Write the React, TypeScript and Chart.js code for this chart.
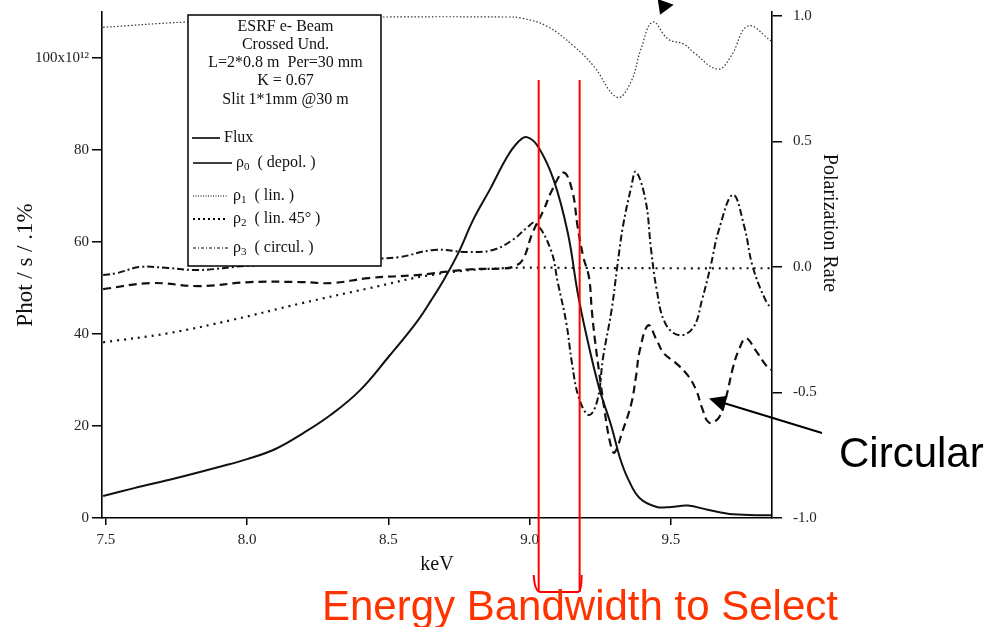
import React, { useEffect, useRef } from "react";
import { Chart, registerables } from "chart.js";
Chart.register(...registerables);

// ---- data ----
const fluxEnergy = [7.49, 7.6, 7.75, 7.9, 8.0, 8.1, 8.2, 8.3, 8.4, 8.5, 8.6, 8.65, 8.7, 8.75, 8.8, 8.86, 8.92, 8.96, 8.99, 9.03, 9.085, 9.135, 9.17, 9.2, 9.245, 9.29, 9.32, 9.35, 9.39, 9.45, 9.5, 9.56, 9.63, 9.72, 9.856];
const fluxValues = [4.8, 6.5, 8.7, 11.1, 12.8, 15.0, 18.5, 22.6, 27.8, 35.0, 42.6, 47.2, 52.2, 57.9, 64.8, 71.5, 78.5, 81.8, 82.8, 80.7, 73.5, 62, 49, 40, 28.5, 19.8, 13, 8.3, 4.3, 2.4, 2.4, 2.7, 1.8, 0.8, 0.6];

const rho1Energy = [7.49, 7.78, 8.1, 8.48, 8.92, 8.97, 9.06, 9.156, 9.227, 9.31, 9.358, 9.394, 9.436, 9.49, 9.546, 9.58, 9.666, 9.713, 9.773, 9.856];
const rho1Values = [0.955, 0.976, 0.99, 0.996, 0.996, 0.992, 0.96, 0.88, 0.8, 0.676, 0.736, 0.868, 0.976, 0.908, 0.888, 0.856, 0.788, 0.84, 0.96, 0.9];

const rho2Energy = [7.49, 7.72, 7.95, 8.19, 8.43, 8.66, 8.9, 9.2, 9.5, 9.856];
const rho2Values = [-0.3, -0.264, -0.21, -0.145, -0.085, -0.03, -0.005, -0.004, -0.005, -0.005];

const rho0Energy = [7.49, 7.54, 7.62, 7.72, 7.83, 8.0, 8.2, 8.4, 8.54, 8.66, 8.78, 8.87, 8.94, 8.99, 9.02, 9.075, 9.1, 9.13, 9.15, 9.174, 9.21, 9.24, 9.26, 9.29, 9.31, 9.33, 9.36, 9.376, 9.41, 9.43, 9.45, 9.48, 9.53, 9.58, 9.61, 9.64, 9.67, 9.72, 9.76, 9.79, 9.84, 9.856];
const rho0Values = [-0.032, -0.024, 0.0, -0.004, -0.012, 0.005, 0.015, 0.03, 0.04, 0.068, 0.06, 0.068, 0.108, 0.156, 0.176, 0.068, -0.064, -0.224, -0.384, -0.52, -0.59, -0.53, -0.36, -0.172, 0.0, 0.16, 0.32, 0.38, 0.268, 0.068, -0.092, -0.224, -0.272, -0.24, -0.132, 0.0, 0.148, 0.288, 0.16, 0.0, -0.144, -0.16];

const rho3Energy = [7.49, 7.66, 7.83, 8.01, 8.19, 8.3, 8.43, 8.6, 8.78, 8.9, 8.94, 8.975, 9.01, 9.05, 9.08, 9.12, 9.15, 9.17, 9.19, 9.21, 9.22, 9.23, 9.245, 9.265, 9.285, 9.3, 9.33, 9.36, 9.376, 9.39, 9.42, 9.45, 9.475, 9.515, 9.56, 9.59, 9.61, 9.635, 9.67, 9.695, 9.72, 9.74, 9.766, 9.8, 9.837, 9.856];
const rho3Values = [-0.088, -0.064, -0.076, -0.06, -0.06, -0.064, -0.044, -0.032, -0.01, -0.006, 0.0, 0.028, 0.136, 0.228, 0.308, 0.376, 0.308, 0.16, 0.04, -0.04, -0.172, -0.28, -0.41, -0.57, -0.7, -0.74, -0.65, -0.544, -0.44, -0.332, -0.232, -0.292, -0.344, -0.38, -0.432, -0.492, -0.56, -0.62, -0.6, -0.52, -0.4, -0.332, -0.284, -0.332, -0.392, -0.41];

const xTicks = [7.5, 8.0, 8.5, 9.0, 9.5];
const leftTicks = [0, 20, 40, 60, 80, 100];
const rightTicks = [-1.0, -0.5, 0.0, 0.5, 1.0];
const bandwidth = [9.032, 9.177];
const circularTarget = [9.635, -0.524];
const topArrowTip = [9.51, 1.045];

const headerLines = ["ESRF e- Beam", "Crossed Und.", "L=2*0.8 m  Per=30 mm", "K = 0.67", "Slit 1*1mm @30 m"];

const pts = (xs: number[], ys: number[]) => xs.map((x, i) => ({ x, y: ys[i] }));

const serif = "'Liberation Serif', 'Times New Roman', serif";
const sans = "'Liberation Sans', Arial, sans-serif";

export default function App() {
  const ref = useRef<HTMLCanvasElement>(null);
  useEffect(() => {
    const ctx = ref.current!.getContext("2d")!;

    const overlay = {
      id: "overlay",
      afterDraw(chart: any) {
        const c: CanvasRenderingContext2D = chart.ctx;
        const xs = chart.scales.x;
        const yr = chart.scales.y1;
        const ca = chart.chartArea;
        c.save();

        // legend / info box
        const bx = 188, by = 15, bw = 193, bh = 251;
        c.fillStyle = "#fff";
        c.fillRect(bx, by, bw, bh);
        c.strokeStyle = "#000";
        c.lineWidth = 1.5;
        c.strokeRect(bx, by, bw, bh);

        c.fillStyle = "#111";
        c.textAlign = "center";
        c.textBaseline = "middle";
        c.font = `16px ${serif}`;
        const hy = [27, 45, 63, 81, 100];
        headerLines.forEach((t, i) => c.fillText(t, bx + bw / 2 + 1, hy[i]));

        const entries = [
          { y: 138, x0: 192, x1: 220, dash: [] as number[], w: 1.6, sym: "", sub: "", text: "Flux", tx: 224 },
          { y: 163, x0: 193, x1: 232, dash: [], w: 1.6, sym: "ρ", sub: "0", text: "  ( depol. )", tx: 236 },
          { y: 196, x0: 193, x1: 227, dash: [1, 1.5], w: 1, sym: "ρ", sub: "1", text: "  ( lin. )", tx: 233 },
          { y: 219, x0: 193, x1: 228, dash: [2, 3], w: 1.8, sym: "ρ", sub: "2", text: "  ( lin. 45° )", tx: 233 },
          { y: 248, x0: 193, x1: 228, dash: [3, 2, 1, 2], w: 1.1, sym: "ρ", sub: "3", text: "  ( circul. )", tx: 233 },
        ];
        c.textAlign = "left";
        entries.forEach((e) => {
          c.beginPath();
          c.setLineDash(e.dash);
          c.lineWidth = e.w;
          c.moveTo(e.x0, e.y);
          c.lineTo(e.x1, e.y);
          c.stroke();
          c.setLineDash([]);
          let x = e.tx;
          c.font = `16px ${serif}`;
          if (e.sym) {
            c.fillText(e.sym, x, e.y);
            x += c.measureText(e.sym).width;
            c.font = `11px ${serif}`;
            c.fillText(e.sub, x, e.y + 4);
            x += c.measureText(e.sub).width;
            c.font = `16px ${serif}`;
          }
          c.fillText(e.text, x, e.y);
        });

        // axis titles
        c.fillStyle = "#111";
        c.textAlign = "center";
        c.textBaseline = "middle";
        c.save();
        c.font = `23px ${serif}`;
        c.translate(26, (ca.top + ca.bottom) / 2);
        c.rotate(-Math.PI / 2);
        c.fillText("Phot / s / .1%", 0, 0);
        c.restore();
        c.font = `20px ${serif}`;
        c.fillText("keV", (ca.left + ca.right) / 2, 565);
        c.save();
        c.translate(829, 223);
        c.rotate(Math.PI / 2);
        c.fillText("Polarization Rate", 0, 0);
        c.restore();

        // red bandwidth bracket
        const x1 = xs.getPixelForValue(bandwidth[0]);
        const x2 = xs.getPixelForValue(bandwidth[1]);
        c.strokeStyle = "#ff0000";
        c.lineWidth = 2;
        c.beginPath();
        c.moveTo(x1, 80);
        c.lineTo(x1, 592);
        c.moveTo(x2, 80);
        c.lineTo(x2, 592);
        c.stroke();
        c.beginPath();
        c.moveTo(x1 - 5, 575);
        c.quadraticCurveTo(x1 - 4, 592, x1 + 2, 592);
        c.lineTo(x2 - 2, 592);
        c.quadraticCurveTo(x2 + 2, 592, x2 + 2, 575);
        c.stroke();

        c.fillStyle = "#ff3300";
        c.font = `42px ${sans}`;
        c.textAlign = "left";
        c.textBaseline = "alphabetic";
        c.fillText("Energy Bandwidth to Select", 322, 620);

        // Circular annotation
        c.fillStyle = "#000";
        c.fillText("Circular", 839, 467);
        const tx = xs.getPixelForValue(circularTarget[0]);
        const ty = yr.getPixelForValue(circularTarget[1]);
        const sx = 822, sy = 433;
        const ang = Math.atan2(ty - sy, tx - sx);
        c.strokeStyle = "#000";
        c.lineWidth = 2;
        c.beginPath();
        c.moveTo(sx, sy);
        c.lineTo(tx - 12 * Math.cos(ang), ty - 12 * Math.sin(ang));
        c.stroke();
        const head = (px: number, py: number, a: number, len: number, hw: number) => {
          c.beginPath();
          c.moveTo(px, py);
          c.lineTo(px - len * Math.cos(a) + hw * Math.sin(a), py - len * Math.sin(a) - hw * Math.cos(a));
          c.lineTo(px - len * Math.cos(a) - hw * Math.sin(a), py - len * Math.sin(a) + hw * Math.cos(a));
          c.closePath();
          c.fill();
        };
        head(tx, ty, ang, 17, 8);
        // partial arrow at the top edge
        const ax = xs.getPixelForValue(topArrowTip[0]);
        const ay = yr.getPixelForValue(topArrowTip[1]);
        head(ax, ay, -0.15, 15, 8);

        c.restore();
      },
    };

    const noPad = (s: any) => { s.paddingTop = 0; s.paddingBottom = 0; };
    const tickFont = { family: serif, size: 15 };
    const chart = new Chart(ctx, {
      type: "line",
      data: {
        datasets: [
          { label: "Flux", data: pts(fluxEnergy, fluxValues), yAxisID: "y", borderColor: "#111", borderWidth: 2, tension: 0.4 },
          { label: "ρ1 (lin.)", data: pts(rho1Energy, rho1Values), yAxisID: "y1", borderColor: "#333", borderWidth: 1.2, borderDash: [1.5, 2], tension: 0.4 },
          { label: "ρ2 (lin. 45°)", data: pts(rho2Energy, rho2Values), yAxisID: "y1", borderColor: "#111", borderWidth: 2.2, borderDash: [2, 5], tension: 0.4 },
          { label: "ρ0 (depol.)", data: pts(rho0Energy, rho0Values), yAxisID: "y1", borderColor: "#111", borderWidth: 2, borderDash: [7, 3, 2, 3], tension: 0.4 },
          { label: "ρ3 (circul.)", data: pts(rho3Energy, rho3Values), yAxisID: "y1", borderColor: "#111", borderWidth: 2.2, borderDash: [8, 5], tension: 0.4 },
        ] as any,
      },
      options: {
        responsive: false,
        animation: false,
        layout: { padding: { top: 12, left: 0, right: 0, bottom: 0 } },
        plugins: { legend: { display: false }, tooltip: { enabled: false } },
        elements: { point: { radius: 0 } },
        scales: {
          x: {
            type: "linear",
            min: 7.486,
            max: 9.858,
            afterBuildTicks: (s: any) => { s.ticks = xTicks.map((v) => ({ value: v })); },
            afterFit: (s: any) => { s.height = 109; s.paddingLeft = 0; s.paddingRight = 0; },
            grid: { drawOnChartArea: false, color: "#000", tickLength: 7, lineWidth: 1.5 },
            border: { color: "#000", width: 1.6 },
            ticks: { color: "#222", font: tickFont, padding: 6, autoSkip: false, maxRotation: 0, callback: (v: any) => Number(v).toFixed(1) },
          },
          y: {
            type: "linear",
            position: "left",
            min: 0,
            max: 110,
            afterBuildTicks: (s: any) => { s.ticks = leftTicks.map((v) => ({ value: v })); },
            afterFit: (s: any) => { s.width = 102; noPad(s); },
            grid: { drawOnChartArea: false, color: "#000", tickLength: 10, lineWidth: 1.5 },
            border: { color: "#000", width: 1.6 },
            ticks: { color: "#222", font: tickFont, padding: 3, autoSkip: false, callback: (v: any) => (v === 100 ? "100x10¹²" : String(v)) },
          },
          y1: {
            type: "linear",
            position: "right",
            min: -1,
            max: 1.016,
            afterBuildTicks: (s: any) => { s.ticks = rightTicks.map((v) => ({ value: v })); },
            afterFit: (s: any) => { s.width = 228; noPad(s); },
            grid: { drawOnChartArea: false, color: "#000", tickLength: 10, lineWidth: 1.5 },
            border: { color: "#000", width: 1.6 },
            ticks: { color: "#222", font: tickFont, padding: 11, autoSkip: false, callback: (v: any) => Number(v).toFixed(1) },
          },
        },
      } as any,
      plugins: [overlay],
    });
    return () => chart.destroy();
  }, []);
  return (
    <div style={{ position: "absolute", left: 0, top: 0, width: 1000, height: 627, background: "#fff" }}>
      <canvas ref={ref} width={1000} height={627} style={{ display: "block" }} />
    </div>
  );
}
